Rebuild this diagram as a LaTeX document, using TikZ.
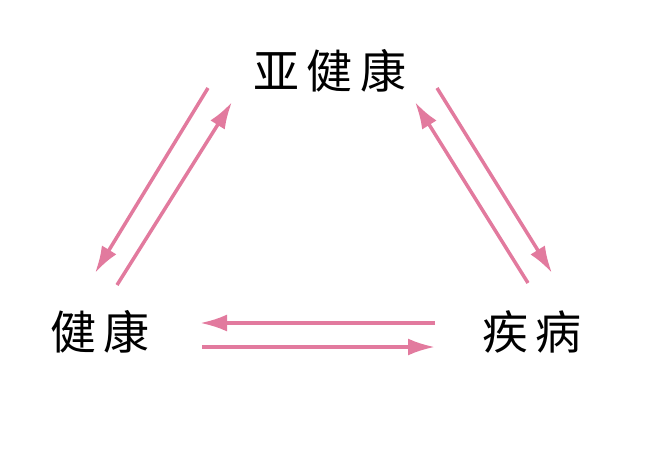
\documentclass[tikz,border=0pt]{standalone}
\usepackage{fontspec}
\newfontfamily\cjk{Noto Sans CJK SC}
\usetikzlibrary{arrows.meta}
\definecolor{pk}{RGB}{226,122,158}
\begin{document}
\begin{tikzpicture}[x=1pt,y=-1pt,
  lbl/.style={font=\cjk\fontsize{46}{46}\selectfont, inner sep=0pt},
  arr/.style={draw=pk, line width=3.5pt, -{Latex[length=27pt,width=17pt]}}]
\useasboundingbox (0,0) rectangle (658,468);
\node[lbl] (sub) at (330,71) {亚\hspace{8pt}健\hspace{8pt}康};
\node[lbl] (hea) at (100,332) {健\hspace{8pt}康};
\node[lbl] (dis) at (532,332) {疾\hspace{8pt}病};
\coordinate (a1) at (208,88);  \coordinate (a2) at (95,273);
\coordinate (b1) at (117,285); \coordinate (b2) at (232,102);
\coordinate (c1) at (528,283); \coordinate (c2) at (415,102);
\coordinate (d1) at (437,88);  \coordinate (d2) at (552,273);
\coordinate (e1) at (435,323); \coordinate (e2) at (200,323);
\coordinate (f1) at (202,347); \coordinate (f2) at (435,347);
\draw[arr] (a1) -- (a2);
\draw[arr] (b1) -- (b2);
\draw[arr] (c1) -- (c2);
\draw[arr] (d1) -- (d2);
\draw[arr] (e1) -- (e2);
\draw[arr] (f1) -- (f2);
\end{tikzpicture}
\end{document}
